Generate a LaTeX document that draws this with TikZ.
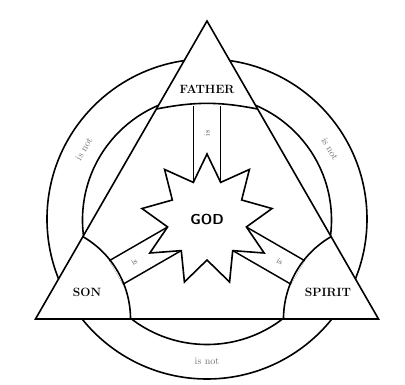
\documentclass[tikz,border=0pt]{standalone}
\usetikzlibrary{shapes.geometric, backgrounds, calc}

\begin{document}
\begin{tikzpicture}[x=1pt, y=1pt, line width=1.6pt,
    every on background layer/.style={line width=1.6pt},
    bar/.style={double=white, double distance=25.5pt, line width=1.6pt},
    person/.style={font=\large\bfseries},
    godstar/.style={draw, fill=white, star, star points=9, star point height=26pt,
      minimum size=132pt, inner sep=0pt, font=\Large\sffamily\bfseries},
    isnot/.style={font=\normalsize, text=black!55},
    islbl/.style={font=\footnotesize, text=black!65}]
  \useasboundingbox (-207,-165) rectangle (198,220);

  % Corners of the shield
  \coordinate (top) at (0,199);
  \coordinate (left) at (-171.5,-99);
  \coordinate (right) at (171.5,-99);

  % Centre and persons
  \node[godstar] (god) at (0,0) {GOD};
  \node[person] (father) at (0,131) {FATHER};
  \node[person] (son) at (-120,-72) {SON};
  \node[person] (spirit) at (121,-72) {SPIRIT};

  % Ends of the bars
  \coordinate (fpt) at (0,114);
  \coordinate (spt) at (210:105);
  \coordinate (hpt) at (330:105);

  % Corner arcs
  \draw ($(top)+(-50.6,-88)$) to[bend left=11] ($(top)+(50.6,-88)$);
  \draw ($(left)+(60:95)$) arc[start angle=60, end angle=0, radius=95];
  \draw ($(right)+(180:95)$) arc[start angle=180, end angle=120, radius=95];

  % Ring labels
  \node[isnot, rotate=60] (nfs) at (150:142) {is not};
  \node[isnot, rotate=-60] (nfh) at (30:142) {is not};
  \node[isnot] (nsh) at (270:141) {is not};

  \begin{scope}[on background layer]
    \draw (0,1) circle (160);
    \draw (0,0) circle (124.5);
    \draw[fill=white] (top) -- (left) -- (right) -- cycle;
    \draw[bar] (god.center) -- (fpt) node[islbl, pos=0.76, sloped] {is};
    \draw[bar] (god.center) -- (spt) node[islbl, pos=0.8, sloped] {is};
    \draw[bar] (god.center) -- (hpt) node[islbl, pos=0.8, sloped] {is};
  \end{scope}
\end{tikzpicture}
\end{document}
